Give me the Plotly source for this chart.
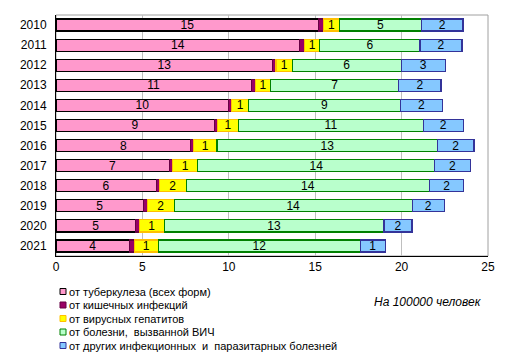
import plotly.graph_objects as go

years = ["2010", "2011", "2012", "2013", "2014", "2015", "2016", "2017", "2018", "2019", "2020", "2021"]
tb = [15.2, 14.1, 12.55, 11.3, 10.0, 9.15, 7.8, 6.55, 5.8, 5.05, 4.6, 4.25]
intestinal = [0.3, 0.3, 0.18, 0.23, 0.16, 0.19, 0.15, 0.19, 0.17, 0.23, 0.21, 0.27]
hepatitis = [0.9, 0.87, 0.95, 0.89, 1.0, 1.24, 1.37, 1.47, 1.56, 1.57, 1.45, 1.41]
hiv = [4.75, 5.8, 6.3, 7.42, 8.76, 10.67, 12.76, 13.71, 14.1, 13.76, 12.72, 11.68]
other = [2.4, 2.43, 2.55, 2.44, 2.46, 2.32, 2.11, 2.05, 1.97, 1.86, 1.62, 1.45]

names = ["от туберкулеза (всех форм)", "от кишечных инфекций", "от вирусных гепатитов",
         "от болезни,  вызванной ВИЧ", "от других инфекционных  и  паразитарных болезней"]
fills = ["#FF99CC", "#990066", "#FFFF00", "#B9FFCC", "#85C8FF"]
edges = ["#000000", "#660044", "#FFC000", "#008000", "#333399"]
series = [tb, intestinal, hepatitis, hiv, other]
show_text = [True, False, True, True, True]

# page body has an 8px default margin; size the figure so it fits the 511x355 window
OFF = 8
W, H = 511 - OFF, 355 - OFF
ML, MR, MT, MB = 56 - OFF, 23, 15 - OFF, 99
PW, PH = W - ML - MR, H - MT - MB

fig = go.Figure()
for name, vals, fc, ec, st in zip(names, series, fills, edges, show_text):
    fig.add_trace(go.Bar(
        y=years, x=vals, name=name, orientation="h",
        marker=dict(color=fc, line=dict(color=ec, width=1.2)),
        texttemplate="%{x:.0f}" if st else None,
        textposition="inside" if st else "none",
        insidetextanchor="middle",
        textangle=0,
        textfont=dict(family="Liberation Sans, Arial", size=12, color="#000000"),
        constraintext="none",
        hoverinfo="skip",
        showlegend=False,
    ))

def px_x(px):
    return (px - OFF - ML) / PW

def px_y(py):
    return (H - MB - (py - OFF)) / PH

shapes = [dict(type="rect", xref="paper", yref="paper", x0=0, x1=1, y0=0, y1=1,
               line=dict(color="#A0A0A0", width=1), layer="below")]
annotations = []
leg_top, leg_step = 291.5, 13.5
for i, (name, fc, ec) in enumerate(zip(names, fills, edges)):
    cy = leg_top + i * leg_step
    shapes.append(dict(type="rect", xref="paper", yref="paper",
                       x0=px_x(60), x1=px_x(66), y0=px_y(cy + 3), y1=px_y(cy - 3),
                       fillcolor=fc, line=dict(color=ec, width=1)))
    annotations.append(dict(text=name, xref="paper", yref="paper", x=px_x(67), y=px_y(cy),
                            xanchor="left", yanchor="middle", showarrow=False,
                            font=dict(size=11, color="#000000")))
annotations.append(dict(text="<i>На 100000 человек</i>", xref="paper", yref="paper",
                        x=px_x(484), y=px_y(302), xanchor="right", yanchor="middle",
                        showarrow=False, font=dict(size=12, color="#000000")))

fig.update_layout(
    barmode="stack",
    bargap=0.4,
    width=W, height=H,
    margin=dict(l=ML, r=MR, t=MT, b=MB, autoexpand=False),
    paper_bgcolor="white", plot_bgcolor="white",
    font=dict(family="Liberation Sans, Arial", size=12, color="#000000"),
    showlegend=False,
    xaxis=dict(range=[0, 25], dtick=5, showgrid=True, gridcolor="#BFBFBF", gridwidth=1,
               showline=True, linecolor="#000000", linewidth=1, zeroline=False,
               ticks="", tickfont=dict(size=12), automargin=False),
    yaxis=dict(autorange="reversed", showline=True, linecolor="#000000", linewidth=1,
               ticks="", showgrid=False, tickfont=dict(size=12), ticklabelstandoff=6,
               automargin=False),
    shapes=shapes,
    annotations=annotations,
)

fig.write_html("out.html")
